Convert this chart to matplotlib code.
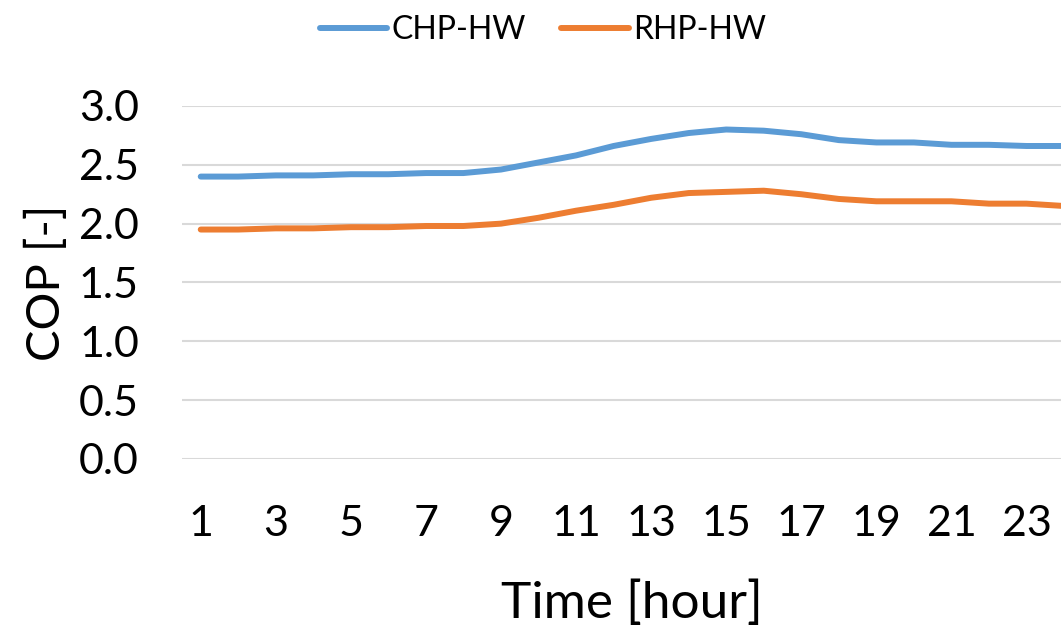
import matplotlib
matplotlib.use("Agg")
import matplotlib.pyplot as plt

# Hourly COP values
hours = list(range(1, 25))
chp_hw = [2.40, 2.40, 2.41, 2.41, 2.42, 2.42, 2.43, 2.43, 2.46, 2.52, 2.58, 2.66,
          2.72, 2.77, 2.80, 2.79, 2.76, 2.71, 2.69, 2.69, 2.67, 2.67, 2.66, 2.66]
rhp_hw = [1.95, 1.95, 1.96, 1.96, 1.97, 1.97, 1.98, 1.98, 2.00, 2.05, 2.11, 2.16,
          2.22, 2.26, 2.27, 2.28, 2.25, 2.21, 2.19, 2.19, 2.19, 2.17, 2.17, 2.15]
x_ticks = list(range(1, 24, 2))
y_ticks = [0.0, 0.5, 1.0, 1.5, 2.0, 2.5, 3.0]

plt.rcParams['font.family'] = ['Lato', 'DejaVu Sans']

fig = plt.figure(figsize=(10.61, 6.26), dpi=100)
# axes run past the right edge, the reference is cropped there
ax = fig.add_axes([0.1715, 0.2668, 0.849, 0.5639])

ax.plot(hours, chp_hw, color='#5B9BD5', lw=4.3, solid_capstyle='round', solid_joinstyle='round', label='CHP-HW')
ax.plot(hours, rhp_hw, color='#ED7D31', lw=4.3, solid_capstyle='round', solid_joinstyle='round', label='RHP-HW')

ax.set_xlim(0.5, 24.5)
ax.set_ylim(0, 3.0)
ax.set_xticks(x_ticks)
ax.set_yticks(y_ticks)
ax.set_yticklabels([f"{v:.1f}" for v in y_ticks])
ax.tick_params(axis='both', length=0, labelsize=31)
ax.tick_params(axis='x', pad=33)
ax.tick_params(axis='y', pad=31)

ax.grid(True, axis='y', color='#d9d9d9', lw=1.5)
ax.set_axisbelow(True)
for s in ax.spines.values():
    s.set_visible(False)

ax.set_xlabel("Time [hour]", fontsize=37, labelpad=27)
ax.set_ylabel("COP [-]", fontsize=34, labelpad=8)

fig.legend(loc='center', bbox_to_anchor=(0.512, 0.952), ncol=2, frameon=False,
           fontsize=23, handlelength=2.1, columnspacing=1.1, handletextpad=0.15)

fig.savefig("out.png", dpi=100)
